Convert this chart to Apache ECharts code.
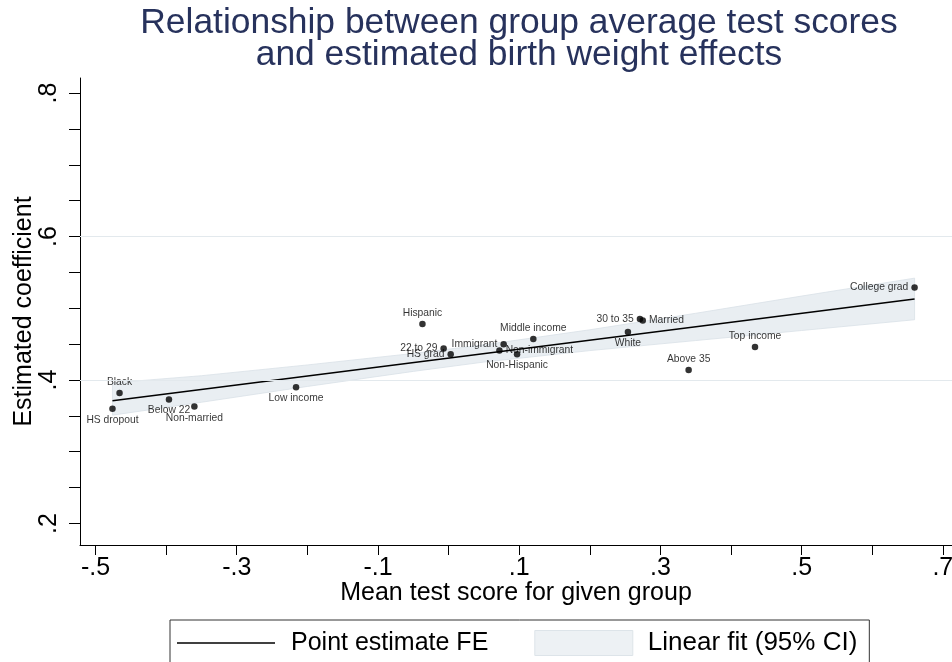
<!DOCTYPE html>
<html>
<head>
<meta charset="utf-8">
<script src="https://cdn.jsdelivr.net/npm/echarts@6/dist/echarts.min.js"></script>
<style>
  html, body { margin: 0; padding: 0; background: #fff; }
  #chart { width: 952px; height: 662px; }
</style>
</head>
<body>
<div id="chart"></div>
<script>
// Group-level points: mean test score (x) vs estimated birth weight coefficient (y)
const groupNames = ['HS dropout', 'Black', 'Below 22', 'Non-married', 'Low income',
  'Hispanic', '22 to 29', 'HS grad', 'Immigrant', 'Non-immigrant', 'Non-Hispanic',
  'Middle income', '30 to 35', 'Married', 'White', 'Above 35', 'Top income', 'College grad'];
const groupX = [-0.476, -0.466, -0.396, -0.360, -0.216,
  -0.037, -0.007, 0.003, 0.078, 0.072, 0.097,
  0.120, 0.271, 0.275, 0.254, 0.340, 0.434, 0.660];
const groupY = [0.360, 0.382, 0.373, 0.363, 0.390,
  0.478, 0.444, 0.436, 0.450, 0.441, 0.436,
  0.457, 0.485, 0.483, 0.467, 0.414, 0.446, 0.529];

// Fitted line endpoints
const fitX = [-0.476, 0.660];
const fitY = [0.371, 0.513];

// 95% confidence band of the linear fit
const bandX    = [-0.476, -0.35, -0.2, -0.05, 0.05, 0.2, 0.35, 0.5, 0.660];
const bandLow  = [0.351, 0.369, 0.391, 0.412, 0.425, 0.441, 0.455, 0.469, 0.484];
const bandHigh = [0.396, 0.406, 0.421, 0.437, 0.449, 0.470, 0.493, 0.517, 0.542];

// Axis ticks and labels
const xTickVals  = [-0.5, -0.4, -0.3, -0.2, -0.1, 0, 0.1, 0.2, 0.3, 0.4, 0.5, 0.6, 0.7];
const xLabelVals = [-0.5, -0.3, -0.1, 0.1, 0.3, 0.5, 0.7];
const xLabelText = ['-.5', '-.3', '-.1', '.1', '.3', '.5', '.7'];
const yTickVals  = [0.2, 0.25, 0.3, 0.35, 0.4, 0.45, 0.5, 0.55, 0.6, 0.65, 0.7, 0.75, 0.8];
const yLabelVals = [0.2, 0.4, 0.6, 0.8];
const yLabelText = ['.2', '.4', '.6', '.8'];
const yGridVals  = [0.4, 0.6];

// Where each marker label sits relative to its dot
const labelSide = ['bottom', 'top', 'bottom', 'bottom', 'bottom',
  'top', 'left', 'left', 'left', 'right', 'bottom',
  'top', 'left', 'right', 'bottom', 'top', 'top', 'left'];

const FONT = 'Liberation Sans, Arial, Helvetica, sans-serif';
const BAND_FILL = '#e9eef2';
const BAND_EDGE = '#d9e1e7';

function lookup(vals, texts) {
  return v => {
    for (let i = 0; i < vals.length; i++) {
      if (Math.abs(vals[i] - v) < 1e-6) return texts[i];
    }
    return '';
  };
}

const chart = echarts.init(document.getElementById('chart'), null, { renderer: 'canvas' });

const scatterData = groupNames.map((name, i) => ({
  name: name,
  value: [groupX[i], groupY[i]],
  label: { position: labelSide[i] }
}));

const bandData = bandX.map((x, i) => [x, bandLow[i], bandHigh[i]]);

chart.setOption({
  backgroundColor: '#ffffff',
  animation: false,
  textStyle: { fontFamily: FONT },
  title: {
    text: 'Relationship between group average test scores\nand estimated birth weight effects',
    left: 514,
    top: 2,
    textAlign: 'center',
    textStyle: {
      fontFamily: FONT,
      fontSize: 35.4,
      fontWeight: 'normal',
      color: '#27325c',
      lineHeight: 32
    }
  },
  grid: { left: 80, right: 0, top: 78, bottom: 117, outerBoundsMode: 'none', containLabel: false },
  xAxis: {
    type: 'value',
    min: -0.522,
    max: 0.713,
    name: 'Mean test score for given group',
    nameLocation: 'middle',
    nameGap: 36,
    nameMoveOverlap: false,
    nameTextStyle: { fontFamily: FONT, fontSize: 25, color: '#000' },
    axisLine: { show: true, onZero: false, lineStyle: { color: '#000', width: 1 } },
    axisTick: { show: true, customValues: xTickVals, length: 10, lineStyle: { color: '#000', width: 1 } },
    axisLabel: {
      customValues: xLabelVals,
      formatter: lookup(xLabelVals, xLabelText),
      alignMinLabel: 'center',
      alignMaxLabel: 'center',
      fontFamily: FONT, fontSize: 25, color: '#000', margin: 11
    },
    splitLine: { show: false }
  },
  yAxis: {
    type: 'value',
    min: 0.17,
    max: 0.821,
    name: 'Estimated coefficient',
    nameLocation: 'middle',
    nameGap: 43,
    nameRotate: 90,
    nameMoveOverlap: false,
    nameTextStyle: { fontFamily: FONT, fontSize: 25, color: '#000' },
    axisLine: { show: true, onZero: false, lineStyle: { color: '#000', width: 1 } },
    axisTick: { show: true, customValues: yTickVals, length: 11, lineStyle: { color: '#000', width: 1 } },
    axisLabel: {
      customValues: yLabelVals,
      formatter: lookup(yLabelVals, yLabelText),
      rotate: 90,
      alignMinLabel: 'center',
      alignMaxLabel: 'center',
      fontFamily: FONT, fontSize: 25, color: '#000', margin: 18
    },
    splitLine: { show: false }
  },
  legend: {
    left: 170,
    top: 620,
    orient: 'horizontal',
    itemWidth: 98,
    itemHeight: 25,
    itemGap: 46,
    padding: [10, 12, 20, 7],
    borderColor: '#333',
    borderWidth: 1,
    borderRadius: 0,
    textStyle: { fontFamily: FONT, fontSize: 25, color: '#000', padding: [0, 0, 0, 11] },
    data: [
      { name: 'Point estimate FE', icon: 'path://M0,0 L100,0 L100,1.4 L0,1.4 Z', itemStyle: { color: '#000' } },
      {
        name: 'Linear fit (95% CI)', icon: 'rect',
        itemStyle: { color: '#edf1f4', borderColor: '#dde4e9', borderWidth: 1 },
        textStyle: { fontSize: 26, padding: [0, 0, 0, 10] }
      }
    ]
  },
  series: [
    {
      name: 'Linear fit (95% CI)',
      type: 'custom',
      z: 1,
      silent: true,
      data: bandData,
      encode: { x: 0, y: [1, 2] },
      itemStyle: { color: BAND_FILL },
      renderItem: function (params, api) {
        if (params.dataIndex !== 0) return null;
        const pts = [];
        for (let i = 0; i < bandX.length; i++) pts.push(api.coord([bandX[i], bandHigh[i]]));
        for (let i = bandX.length - 1; i >= 0; i--) pts.push(api.coord([bandX[i], bandLow[i]]));
        return {
          type: 'polygon',
          shape: { points: pts },
          style: { fill: BAND_FILL, stroke: BAND_EDGE, lineWidth: 0.8 }
        };
      },
      markLine: {
        silent: true,
        symbol: 'none',
        label: { show: false },
        lineStyle: { color: '#e3e9ed', type: 'solid', width: 1 },
        data: yGridVals.map(v => ({ yAxis: v }))
      }
    },
    {
      name: 'Point estimate FE',
      type: 'line',
      z: 3,
      symbol: 'none',
      silent: true,
      data: fitX.map((x, i) => [x, fitY[i]]),
      lineStyle: { color: '#000', width: 1.5 },
      itemStyle: { color: '#000' }
    },
    {
      name: 'groups',
      type: 'scatter',
      z: 4,
      silent: true,
      symbol: 'circle',
      symbolSize: 6.5,
      itemStyle: { color: '#000' },
      data: scatterData,
      label: {
        show: true,
        formatter: '{b}',
        fontFamily: FONT,
        fontSize: 10.3,
        color: '#000',
        distance: 3
      },
      labelLayout: { hideOverlap: false }
    }
  ]
});
</script>
</body>
</html>
